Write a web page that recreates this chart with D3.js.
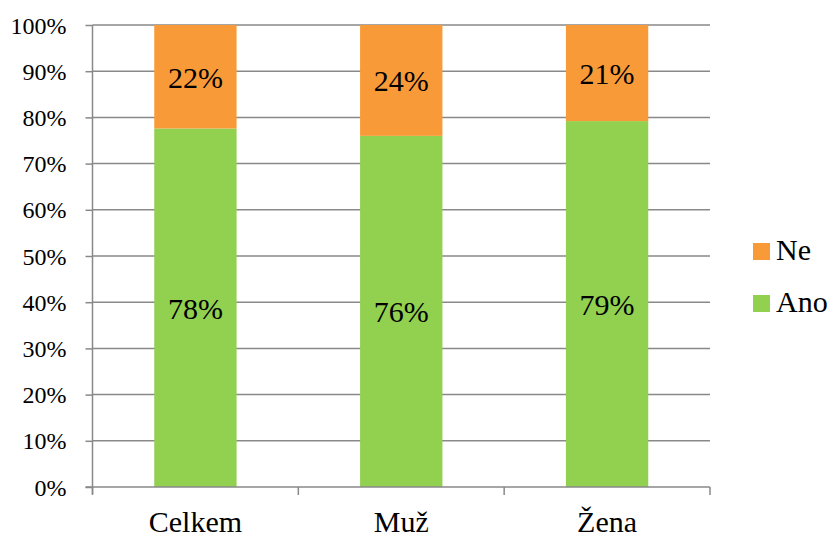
<!DOCTYPE html>
<html><head><meta charset="utf-8">
<script src="https://cdn.jsdelivr.net/npm/d3@7"></script>
<style>body{margin:0;background:#fff}svg{display:block}</style>
</head><body>
<script>
const categories = ["Celkem", "Muž", "Žena"];
const ano = [77.6, 76.0, 79.2];
const ne = [22.4, 24.0, 20.8];
const anoLabels = ["78%", "76%", "79%"];
const neLabels = ["22%", "24%", "21%"];
const yTicks = [0,10,20,30,40,50,60,70,80,90,100];
const seriesNames = ["Ne", "Ano"];
const colors = {Ano: "#92D050", Ne: "#F99A38"};

const W = 833, H = 538;
const FONT = "Liberation Serif";
const m = {left: 92.5, right: 710, top: 25, bottom: 487};
const svg = d3.select("body").append("svg").attr("width", W).attr("height", H);

const x = d3.scaleBand().domain(categories).range([m.left, m.right]).paddingInner(0.6).paddingOuter(0.3);
const y = d3.scaleLinear().domain([0, 100]).range([m.bottom, m.top]);

// gridlines
svg.append("g").selectAll("line").data(yTicks.filter(d => d > 0)).join("line")
  .attr("x1", m.left).attr("x2", m.right)
  .attr("y1", d => y(d)).attr("y2", d => y(d))
  .attr("stroke", "#898989").attr("stroke-width", 1.5);

const data = categories.map((c, i) => ({c, ano: ano[i], ne: ne[i], al: anoLabels[i], nl: neLabels[i]}));

// bars
svg.append("g").selectAll("rect").data(data).join("rect")
  .attr("x", d => x(d.c)).attr("width", x.bandwidth())
  .attr("y", d => y(d.ano)).attr("height", d => y(0) - y(d.ano))
  .attr("fill", colors.Ano);
svg.append("g").selectAll("rect").data(data).join("rect")
  .attr("x", d => x(d.c)).attr("width", x.bandwidth())
  .attr("y", d => y(d.ano + d.ne)).attr("height", d => y(d.ano) - y(d.ano + d.ne))
  .attr("fill", colors.Ne);

// value labels
svg.append("g").selectAll("text").data(data).join("text")
  .attr("x", d => x(d.c) + x.bandwidth() / 2)
  .attr("y", d => (y(0) + y(d.ano)) / 2 + 11)
  .attr("text-anchor", "middle").attr("fill", "#000")
  .attr("font-family", FONT).attr("font-size", 30)
  .text(d => d.al);
svg.append("g").selectAll("text").data(data).join("text")
  .attr("x", d => x(d.c) + x.bandwidth() / 2)
  .attr("y", d => (y(d.ano) + y(d.ano + d.ne)) / 2 + 11)
  .attr("text-anchor", "middle").attr("fill", "#000")
  .attr("font-family", FONT).attr("font-size", 30)
  .text(d => d.nl);

// y axis
const yAxis = d3.axisLeft(y).tickValues(yTicks).tickFormat(d => d + "%").tickSize(7).tickPadding(19);
const gy = svg.append("g").attr("transform", `translate(${m.left},0)`).call(yAxis);
gy.attr("font-family", FONT).attr("font-size", 24);
gy.select(".domain").attr("stroke", "#898989").attr("stroke-width", 1.5).attr("d", `M0,${m.top}V${m.bottom + 7}`);
gy.selectAll(".tick line").attr("stroke", "#898989").attr("stroke-width", 1.5);
gy.selectAll(".tick text").attr("font-family", FONT).attr("font-size", 24).attr("fill", "#000").attr("dy", "0.34em");

// x axis
const gx = svg.append("g").attr("transform", `translate(0,${m.bottom})`);
gx.append("line").attr("x1", m.left - 7).attr("x2", m.right).attr("y1", 0).attr("y2", 0)
  .attr("stroke", "#898989").attr("stroke-width", 1.5);
const bounds = d3.range(categories.length + 1).map(i => m.left + i * (m.right - m.left) / categories.length);
gx.selectAll("line.t").data(bounds).join("line").attr("class", "t")
  .attr("x1", d => d).attr("x2", d => d).attr("y1", 0).attr("y2", 8)
  .attr("stroke", "#898989").attr("stroke-width", 1.5);
gx.selectAll("text").data(categories).join("text")
  .attr("x", d => x(d) + x.bandwidth() / 2).attr("y", 45)
  .attr("text-anchor", "middle").attr("fill", "#000")
  .attr("font-family", FONT).attr("font-size", 30)
  .text(d => d);

// legend
const lg = svg.append("g");
seriesNames.forEach((s, i) => {
  const yy = 243 + i * 52;
  lg.append("rect").attr("x", 753).attr("y", yy).attr("width", 17).attr("height", 17).attr("fill", colors[s]);
  lg.append("text").attr("x", 776).attr("y", yy + 17).attr("fill", "#000")
    .attr("font-family", FONT).attr("font-size", 30).text(s);
});
</script>
</body></html>
